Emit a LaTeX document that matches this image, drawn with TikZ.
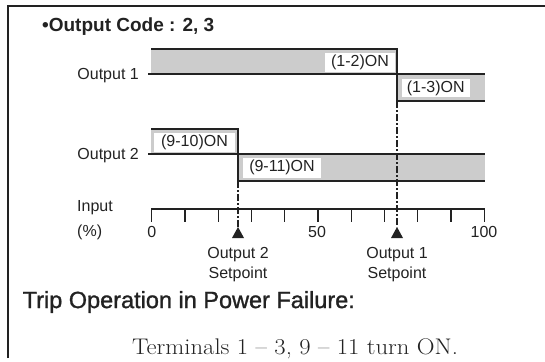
\documentclass[tikz,border=0pt]{standalone}
\usepackage{fontspec}
\setsansfont{Liberation Sans}
\definecolor{bargray}{HTML}{CCCCCC}
\definecolor{ink}{HTML}{222222}
\begin{document}
\begin{tikzpicture}[x=1pt,y=-1pt,
  lbl/.style={font=\sffamily\fontsize{16}{20}\selectfont, text=ink, inner sep=0pt},
  onbox/.style={lbl, fill=white, inner sep=0pt},
  edgeline/.style={draw=ink, line width=1.7pt},
  barfill/.style={fill=bargray},
  spline/.style={draw=ink, line width=1.3pt, dash pattern=on 7pt off 2pt on 2pt off 2pt},
  tickline/.style={draw=ink, line width=1.4pt},
  frameline/.style={draw=ink, line width=2pt},
  tri/.style={fill=ink}
]
\useasboundingbox (0,0) rectangle (545,361);
% frame
\draw[frameline] (8,358) -- (8,6) -- (545,6);
% title
\node[font=\sffamily\bfseries\fontsize{19}{22}\selectfont, text=ink, anchor=west, inner sep=0pt] (title) at (42,27) {•Output Code : 2, 3};

% Output 1
\coordinate (o1a) at (151,49);
\coordinate (o1s) at (397,49);
\coordinate (o1b) at (397,101);
\coordinate (o1e) at (485,101);
\coordinate (o1l) at (148,74);
\coordinate (o1r) at (485,74);
\fill[barfill] (151,49) rectangle (397,74);
\fill[barfill] (397,74) rectangle (485,101);
\draw[edgeline] (o1a) -- (o1s) -- (o1b) -- (o1e);
\draw[edgeline] (o1l) -- (o1r);
\node[onbox, minimum width=70pt, minimum height=19pt] (b12) at (360,62.5) {(1-2)ON};
\node[onbox, minimum width=68.5pt, minimum height=18pt] (b13) at (435.75,88) {(1-3)ON};
\node[lbl, anchor=east] (out1) at (139,76) {Output 1};

% Output 2
\coordinate (o2a) at (151,129);
\coordinate (o2s) at (238,129);
\coordinate (o2b) at (238,181);
\coordinate (o2e) at (485,181);
\coordinate (o2l) at (148,154);
\coordinate (o2r) at (485,154);
\fill[barfill] (151,129) rectangle (238,154);
\fill[barfill] (238,154) rectangle (485,181);
\draw[edgeline] (o2a) -- (o2s) -- (o2b) -- (o2e);
\draw[edgeline] (o2l) -- (o2r);
\node[onbox, minimum width=81pt, minimum height=19pt] (b910) at (194.5,142.5) {(9-10)ON};
\node[onbox, minimum width=78pt, minimum height=19.5pt] (b911) at (282,167.75) {(9-11)ON};
\node[lbl, anchor=east] (out2) at (139,156) {Output 2};

% axis
\coordinate (ax0) at (151.7,209);
\coordinate (ax1) at (484.3,209);
\draw[tickline] (ax0) -- (ax1);
\foreach \i in {0,...,10} {
  \draw[tickline] ({151.7+33.26*\i},208.3) -- ({151.7+33.26*\i},222);
}
\node[lbl, anchor=west] (inp) at (77,208) {Input};
\node[lbl, anchor=west] (pct) at (77,232) {(\%)};
\node[lbl] (n0) at (151.7,232) {0};
\node[lbl] (n50) at (317,232) {50};
\node[lbl] (n100) at (484,232) {100};

% setpoints
\coordinate (t2) at (238,227);
\coordinate (t1) at (397,227);
\draw[spline] (o2b) -- (t2);
\draw[spline] (o1b) -- (t1);
\fill[tri] (t2) -- ++(6,11) -- ++(-12,0) -- cycle;
\fill[tri] (t1) -- ++(6,11) -- ++(-12,0) -- cycle;
\node[lbl, align=center] (sp2) at (238,265) {Output 2\\Setpoint};
\node[lbl, align=center] (sp1) at (397,265) {Output 1\\Setpoint};

% footer
\node[font=\sffamily\fontsize{23.5}{26}\selectfont\addfontfeature{FakeBold=1.2}, text=ink, anchor=west, inner sep=0pt] (trip) at (22.5,302) {Trip Operation in Power Failure:};
\node[font=\fontsize{22.6}{26}\selectfont\addfontfeature{FakeBold=0.8}, text=ink, anchor=west, inner sep=0pt] (term) at (132,349) {\scalebox{1.09}[1]{Terminals 1 -- 3, 9 -- 11 turn ON.}};
\end{tikzpicture}
\end{document}
